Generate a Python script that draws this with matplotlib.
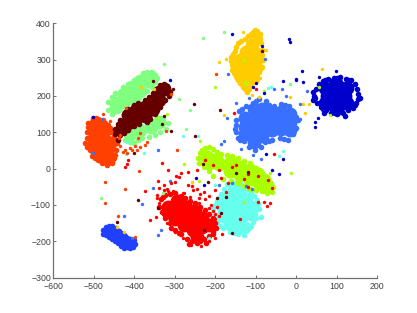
import matplotlib
matplotlib.use("Agg")
import matplotlib.pyplot as plt

x_ticks = [-600, -500, -400, -300, -200, -100, 0, 100, 200]
y_ticks = [-300, -200, -100, 0, 100, 200, 300, 400]

# core = dense interior of a cluster (read as blobs), edge = outer rim dots, noise = stray dots
navy_core = [(98,200),(75,200),(120,200),(87,178),(110,178),(87,222),(110,222),(70,180),(126,180),(70,222),(126,222),(98,165),(98,235)]
navy_edge = [(152,205),(150,220),(145,232),(135,243),(128,245),(122,248),(108,252),(100,250),(92,250),(78,247),(70,245),(65,240),(55,232),(48,220),(42,210),(44,200),(46,195),(52,182),(60,170),(66,165),(72,160),(85,152),(100,150),(115,152),(128,160),(140,168),(148,180),(153,192),(158,195),(40,190),(145,175),(68,152),(120,145)]
navy_noise = [(-158,370),(-19,357),(-15,349),(-86,338),(14,268),(97,268),(57,251),(-34,240),(-1,248),(0,243),(16,238),(-100,235),(-106,224),(-81,207),(54,140),(46,129),(46,114),(-76,40),(-32,27),(-311,243),(-502,141),(-229,-45),(-247,-26),(-61,-4),(-43,-14)]

blue_core = [(-128,140),(-128,115),(-128,95),(-105,165),(-105,140),(-105,115),(-105,90),(-105,72),(-85,165),(-85,140),(-85,115),(-85,90),(-60,150),(-60,125),(-60,105),(-38,155),(-38,130),(-38,108),(-16,150),(-16,125),(-16,105)]
blue_edge = [(-150,120),(-148,135),(-142,158),(-135,165),(-125,172),(-108,180),(-100,186),(-92,192),(-75,187),(-68,175),(-66,165),(-55,172),(-38,178),(-28,176),(-18,172),(-8,150),(-2,142),(5,135),(0,112),(-8,95),(-20,80),(-30,82),(-40,85),(-60,80),(-68,76),(-78,72),(-88,60),(-102,50),(-118,60),(-130,75),(-138,80),(-145,85),(-150,100),(-152,110)]
blue_noise = [(-168,260),(-77,302),(-55,220),(-36,218),(-117,194),(-149,180),(-25,199),(8,177),(27,215),(-172,140),(-178,75),(-187,68),(-137,53),(-108,37),(8,137),(-88,27),(-341,50),(-503,42),(-481,136),(-381,-98),(-425,-131),(-353,-53),(-342,-184),(-335,-168),(-313,-33),(-407,-191),(-160,-40),(-190,-45),(-125,-48),(-110,-55)]

yellow_core = [(-102,362),(-110,340),(-125,320),(-103,318),(-140,300),(-118,298),(-100,298),(-138,280),(-118,278),(-100,278),(-138,258),(-118,256),(-108,250),(-125,235)]
yellow_edge = [(-102,381),(-108,377),(-113,372),(-120,365),(-128,358),(-136,352),(-143,345),(-148,335),(-152,325),(-157,316),(-161,308),(-161,296),(-160,285),(-158,272),(-155,262),(-150,254),(-145,245),(-138,236),(-131,226),(-126,218),(-122,212),(-118,220),(-114,228),(-108,240),(-102,253),(-92,265),(-85,281),(-83,300),(-84,314),(-85,326),(-88,345),(-89,358),(-91,372),(-97,378)]
yellow_noise = [(-133,377),(-190,294),(-175,303),(64,275),(-15,196),(17,179),(31,177),(22,152),(-93,196),(-110,204),(-89,249),(-75,326),(-179,147),(-352,220),(-384,226),(-442,-162),(-425,-175),(-258,-37)]

red_core = [(-318,-105),(-295,-90),(-295,-115),(-272,-105),(-272,-130),(-250,-118),(-300,-140),(-278,-155),(-255,-142),(-232,-135),(-232,-160),(-215,-155),(-255,-170),(-245,-188),(-318,-120)]
red_edge = [(-335,-85),(-330,-78),(-325,-72),(-312,-70),(-300,-68),(-285,-75),(-275,-82),(-262,-88),(-250,-95),(-238,-105),(-225,-115),(-215,-125),(-205,-135),(-200,-150),(-198,-165),(-205,-175),(-215,-185),(-228,-195),(-245,-205),(-258,-200),(-270,-195),(-285,-180),(-300,-170),(-312,-150),(-325,-135),(-332,-120),(-338,-105),(-222,-205),(-265,-208),(-205,-180),(-310,-165),(-290,-178),(-237,-200)]
red_noise = [(-333,14),(-316,-4),(-297,-21),(-291,-22),(-284,-11),(-267,-10),(-246,-5),(-341,-35),(-326,-45),(-328,-58),(-338,-54),(-310,-40),(-300,-36),(-277,-66),(-268,-45),(-258,-47),(-256,-60),(-246,-57),(-373,-63),(-346,-132),(-361,-141),(-94,-92),(-81,-91),(-66,-96),(-73,-104),(-55,40),(-183,-180),(-61,-54),(-71,-31),(-139,-139),(-99,218),(-155,154),(-424,4),(-417,12),(-415,24),(-200,-140),(-190,-130),(-210,-100),(-225,-85),(-238,-70),(-200,-60),(-175,-65),(-205,10),(-150,10),(-170,-40),(-120,-50),(-215,-75),(-228,-65),(-240,-82),(-195,-105),(-205,-118),(-318,-62),(-345,-72),(-130,-30),(-95,-20),(-185,-25),(-320,-55),(-340,-95),(-330,-125),(-320,-150),(-300,-175),(-280,-190),(-260,-210),(-235,-212),(-215,-200),(-200,-190),(-345,-80),(-305,-62),(-280,-68),(-262,-78),(-240,-95),(-215,-108),(-200,-125),(-225,25),(-190,-5),(-160,5),(-120,-15)]

orange_core = [(-490,118),(-480,100),(-500,85),(-475,82),(-503,65),(-480,62),(-460,70),(-492,45),(-468,45),(-463,30),(-475,30),(-500,105),(-495,125),(-482,118)]
orange_edge = [(-502,138),(-495,138),(-490,136),(-478,133),(-472,126),(-465,120),(-460,112),(-455,105),(-450,90),(-446,80),(-443,70),(-445,50),(-447,38),(-450,28),(-455,15),(-468,10),(-480,14),(-490,25),(-498,30),(-505,35),(-510,50),(-516,60),(-522,70),(-518,85),(-518,100),(-515,115),(-514,125),(-460,100)]
orange_noise = [(-435,62),(-423,51),(-411,56),(-398,62),(-386,60),(-374,65),(-370,74),(-427,47),(-417,44),(-407,51),(-394,51),(-439,83),(-435,93),(-386,97),(-390,83),(-198,261),(-309,205),(-421,166),(-460,131),(-477,150),(-321,103),(-294,50),(-473,-37),(-472,-96),(-441,-130),(-388,-8),(-398,-188),(-424,-56)]

maroon_core = [(-430,112),(-415,125),(-415,148),(-395,140),(-395,160),(-375,145),(-375,170),(-355,165),(-355,185),(-338,190),(-338,212),(-328,218)]
maroon_edge = [(-448,95),(-447,110),(-440,122),(-435,134),(-420,148),(-415,165),(-402,175),(-390,182),(-375,190),(-365,198),(-355,208),(-345,220),(-337,230),(-328,234),(-320,228),(-312,212),(-315,200),(-325,188),(-337,170),(-350,150),(-362,136),(-370,127),(-388,122),(-402,118),(-415,105),(-425,98),(-435,92),(-440,80)]
maroon_noise = [(-355,240),(-304,219),(-254,179),(-188,161),(-328,146),(-332,124),(-309,103),(-251,89),(-400,43),(-84,324),(-392,-87),(-442,-146),(-342,-109),(-217,-36),(-186,-123),(-197,-81),(-158,-177),(-148,-11),(-228,-170),(-230,13),(-175,-78),(-120,-10)]

ltgreen_core = [(-445,180),(-445,170),(-425,185),(-425,205),(-405,205),(-405,225),(-385,215),(-385,240),(-365,240),(-360,252),(-410,95),(-385,105),(-360,115),(-340,128)]
ltgreen_edge = [(-466,160),(-466,184),(-456,198),(-448,208),(-436,212),(-427,224),(-415,234),(-402,244),(-394,248),(-378,262),(-368,266),(-357,267),(-350,258),(-345,249),(-348,238),(-357,224),(-368,214),(-378,205),(-388,195),(-398,189),(-408,184),(-419,178),(-429,172),(-439,166),(-448,158),(-456,150),(-422,78),(-410,72),(-400,70),(-390,78),(-380,85),(-365,88),(-350,92),(-337,100),(-322,108),(-318,125),(-330,138)]
ltgreen_noise = [(-231,360),(-178,377),(-328,287),(-291,193),(-262,160),(-272,109),(-15,233),(-483,-82),(-330,-68),(-420,40)]

lime_core = [(-220,32),(-205,25),(-215,15),(-190,12),(-195,20),(-165,15),(-165,-8),(-140,5),(-140,-18),(-115,-5),(-115,-30),(-95,-15),(-95,-38),(-80,-32),(-80,-45),(-72,-52)]
lime_edge = [(-242,30),(-238,42),(-232,52),(-225,58),(-215,60),(-205,55),(-195,46),(-185,40),(-172,38),(-160,35),(-145,28),(-130,22),(-115,14),(-100,2),(-90,-10),(-80,-20),(-70,-30),(-63,-40),(-58,-50),(-60,-65),(-72,-68),(-85,-62),(-100,-58),(-114,-55),(-130,-47),(-145,-40),(-162,-33),(-180,-28),(-205,-20),(-215,-8),(-228,3),(-240,14)]
lime_noise = [(-200,224),(-319,150),(-237,75),(-341,138),(82,148),(-81,214),(-126,239),(-278,13),(-14,-11),(-66,-13),(-130,-91),(55,225),(-130,300),(-125,232),(-240,-35)]

cyan_core = [(-155,-60),(-140,-60),(-170,-80),(-147,-80),(-125,-85),(-180,-105),(-157,-105),(-135,-105),(-113,-105),(-180,-130),(-157,-130),(-135,-130),(-113,-125),(-165,-152),(-143,-155),(-130,-160)]
cyan_edge = [(-172,-42),(-163,-40),(-155,-40),(-147,-40),(-140,-42),(-130,-48),(-120,-57),(-112,-65),(-104,-76),(-98,-86),(-95,-98),(-92,-110),(-88,-132),(-100,-135),(-106,-147),(-112,-158),(-118,-165),(-125,-170),(-130,-182),(-145,-180),(-155,-178),(-165,-175),(-180,-164),(-188,-157),(-195,-150),(-200,-132),(-205,-112),(-200,-100),(-195,-90),(-190,-80),(-185,-70),(-178,-55)]
cyan_noise = [(-279,91),(-244,89),(-376,44),(-417,73),(-70,221),(-62,226),(-33,48),(-44,36),(-215,-190),(-200,-45)]

royal_core = [(-458,-175),(-445,-183),(-430,-195),(-415,-205)]
royal_edge = [(-478,-170),(-478,-180),(-470,-160),(-462,-158),(-455,-157),(-445,-165),(-438,-172),(-432,-178),(-425,-184),(-418,-190),(-410,-194),(-402,-198),(-398,-208),(-404,-216),(-410,-220),(-425,-218),(-432,-212),(-440,-205),(-448,-200),(-455,-195),(-463,-189),(-470,-183)]

# (core, edge, colour) drawn in stacking order, then all noise on top
layers = [
    (ltgreen_core, ltgreen_edge, "#80ff80"),
    (orange_core, orange_edge, "#ff4000"),
    (maroon_core, maroon_edge, "#660000"),
    (navy_core, navy_edge, "#0000cc"),
    (blue_core, blue_edge, "#3a70ff"),
    (yellow_core, yellow_edge, "#ffcc00"),
    (cyan_core, cyan_edge, "#66ffee"),
    (lime_core, lime_edge, "#aaff00"),
    (red_core, red_edge, "#ff0000"),
    (royal_core, royal_edge, "#2040ff"),
]
noise = [
    (ltgreen_noise, "#80ff80"), (cyan_noise, "#66ffee"), (yellow_noise, "#ffcc00"),
    (lime_noise, "#aaff00"), (blue_noise, "#3a70ff"), (navy_noise, "#0000cc"),
    (orange_noise, "#ff4000"), (red_noise, "#ff0000"), (maroon_noise, "#660000"),
]

plt.rcParams["font.family"] = ["Liberation Sans", "DejaVu Sans"]
fig = plt.figure(figsize=(4.17, 3.13), dpi=100)
ax = fig.add_axes([0.128, 0.1134, 0.777, 0.812])

for core, edge, colour in layers:
    ax.scatter(*zip(*core), s=100, c=colour, linewidths=0, zorder=2)
    ax.scatter(*zip(*edge), s=16, c=colour, linewidths=0, zorder=2)
for pts, colour in noise:
    ax.scatter(*zip(*pts), s=6, c=colour, linewidths=0, zorder=3)

ax.set_xlim(-600, 200)
ax.set_ylim(-300, 400)
ax.set_xticks(x_ticks)
ax.set_yticks(y_ticks)
for side in ("top", "right"):
    ax.spines[side].set_visible(False)
for side in ("left", "bottom"):
    ax.spines[side].set_color("#707070")
    ax.spines[side].set_linewidth(0.9)
ax.tick_params(direction="in", length=2.2, width=0.7, color="#707070",
               labelcolor="#404040", labelsize=6.3)
ax.tick_params(axis="x", pad=3)
ax.tick_params(axis="y", pad=1.8)
fig.savefig("out.png", dpi=100)
